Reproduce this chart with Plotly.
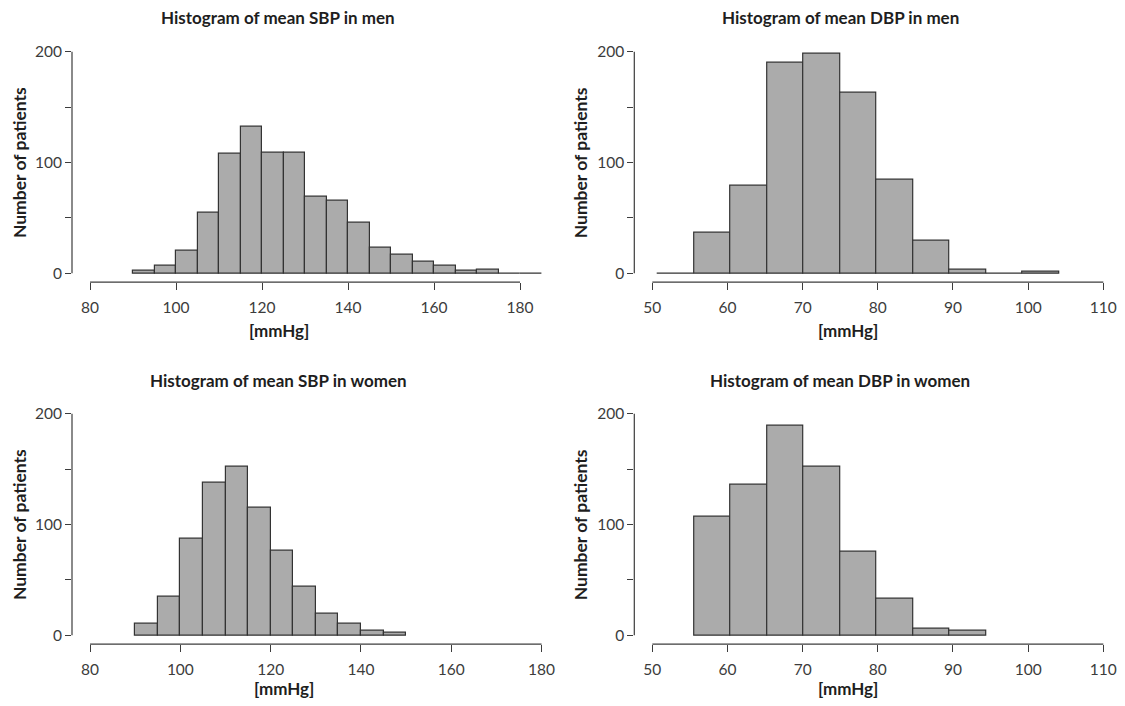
import plotly.graph_objects as go

# ---------------- data ----------------
sbp_edges_men = [90, 95, 100, 105, 110, 115, 120, 125, 130, 135, 140, 145, 150, 155, 160, 165, 170, 175, 180, 185]
sbp_counts_men = [2, 7, 20, 55, 108, 132, 109, 109, 69, 65, 46, 23, 17, 10, 7, 2, 3, 0, 0]

dbp_edges_men = [50.67, 55.53, 60.39, 65.25, 70.11, 74.97, 79.84, 84.70, 89.56, 94.42, 99.28, 104.14]
dbp_counts_men = [0, 37, 79, 190, 198, 163, 84, 29, 3, 0, 1]

sbp_edges_women = [90, 95, 100, 105, 110, 115, 120, 125, 130, 135, 140, 145, 150]
sbp_counts_women = [10, 35, 87, 138, 152, 115, 76, 44, 19, 10, 4, 2]

dbp_edges_women = [55.53, 60.39, 65.25, 70.11, 74.97, 79.84, 84.70, 89.56, 94.42]
dbp_counts_women = [107, 136, 189, 152, 75, 33, 6, 4]

titles = ["Histogram of mean SBP in men", "Histogram of mean DBP in men",
          "Histogram of mean SBP in women", "Histogram of mean DBP in women"]
sbp_ticks = [80, 100, 120, 140, 160, 180]
dbp_ticks = [50, 60, 70, 80, 90, 100, 110]
y_ticks = [0, 50, 100, 150, 200]
y_ticktext = ["0", "", "100", "", "200"]

# ---------------- figure ----------------
# the page body has an 8px margin, so the figure is 16px smaller than the window
OFF = 8
W, H = 1125 - 2 * OFF, 706 - 2 * OFF
FONT = "Lato"
BAR_FILL = "#ababab"
BAR_LINE = "#333333"
AX_COL = "#3c3c3c"
TXT_COL = "#1e1e1e"

panels = [
    dict(edges=sbp_edges_men, counts=sbp_counts_men, ticks=sbp_ticks, xr=[75.8, 189.2],
         px=(72, 559.6), py=(42.8, 282.2), title=(277.7, 17.5), xlab=(279.4, 330), ylab=(19.6, 162.5)),
    dict(edges=dbp_edges_men, counts=dbp_counts_men, ticks=dbp_ticks, xr=[47.6, 111.82],
         px=(634.3, 1117), py=(42.8, 282.2), title=(840.4, 17.5), xlab=(848, 330), ylab=(580.8, 162.5)),
    dict(edges=sbp_edges_women, counts=sbp_counts_women, ticks=sbp_ticks, xr=[76, 184],
         px=(72, 559.6), py=(404.8, 644.2), title=(278.2, 380.7), xlab=(284, 688), ylab=(19.6, 524.5)),
    dict(edges=dbp_edges_women, counts=dbp_counts_women, ticks=dbp_ticks, xr=[47.6, 111.82],
         px=(634.3, 1117), py=(404.8, 644.2), title=(840.4, 380.7), xlab=(848, 688), ylab=(580.8, 524.5)),
]

def fx(v):
    return (v - OFF) / W

def fy(v):
    return 1 - (v - OFF) / H

fig = go.Figure()
layout = dict(width=W, height=H, margin=dict(l=0, r=0, t=0, b=0),
              paper_bgcolor="white", plot_bgcolor="white", showlegend=False,
              font=dict(family=FONT, color=AX_COL))
annotations = []
shapes = []

for i, p in enumerate(panels):
    n = i + 1
    xa = "x" if n == 1 else f"x{n}"
    ya = "y" if n == 1 else f"y{n}"
    e = p["edges"]
    centers = [(a + b) / 2 for a, b in zip(e[:-1], e[1:])]
    widths = [b - a for a, b in zip(e[:-1], e[1:])]
    fig.add_trace(go.Bar(x=centers, y=p["counts"], width=widths, xaxis=xa, yaxis=ya,
                         marker=dict(color=BAR_FILL, line=dict(color=BAR_LINE, width=1.2)),
                         hoverinfo="x+y"))
    xkey = "xaxis" if n == 1 else f"xaxis{n}"
    ykey = "yaxis" if n == 1 else f"yaxis{n}"
    layout[xkey] = dict(domain=[max(0, fx(p["px"][0])), min(1, fx(p["px"][1]))], range=p["xr"], anchor=ya,
                        showgrid=False, zeroline=False, showline=False,
                        tickmode="array", tickvals=p["ticks"], ticks="outside", ticklen=7,
                        tickwidth=1.2, tickcolor=AX_COL, ticklabelstandoff=4,
                        tickfont=dict(family=FONT, size=15.5, color=AX_COL))
    layout[ykey] = dict(domain=[fy(p["py"][1]), fy(p["py"][0])], range=[-8, 208], anchor=xa,
                        showgrid=False, zeroline=False, showline=False,
                        tickmode="array", tickvals=y_ticks, ticktext=y_ticktext,
                        ticks="outside", ticklen=6, tickwidth=1.2, tickcolor=AX_COL,
                        tickfont=dict(family=FONT, size=15.5, color=AX_COL))
    # R-style axis lines spanning only the tick range
    shapes.append(dict(type="line", xref=xa, yref=f"{ya} domain", x0=p["ticks"][0], x1=p["ticks"][-1],
                       y0=0, y1=0, line=dict(color=AX_COL, width=1.2)))
    shapes.append(dict(type="line", xref=f"{xa} domain", yref=ya, x0=0, x1=0, y0=0, y1=200,
                       line=dict(color=AX_COL, width=1.2)))
    annotations.append(dict(text=f"<b>{titles[i]}</b>", x=fx(p["title"][0]), y=fy(p["title"][1]),
                            xref="paper", yref="paper", showarrow=False, xanchor="center", yanchor="middle",
                            font=dict(family=FONT, size=17, color=TXT_COL)))
    annotations.append(dict(text="<b>[mmHg]</b>", x=fx(p["xlab"][0]), y=fy(p["xlab"][1]),
                            xref="paper", yref="paper", showarrow=False, xanchor="center", yanchor="middle",
                            font=dict(family=FONT, size=17, color=TXT_COL)))
    annotations.append(dict(text="<b>Number of patients</b>", x=fx(p["ylab"][0]), y=fy(p["ylab"][1]),
                            xref="paper", yref="paper", showarrow=False, xanchor="center", yanchor="middle",
                            textangle=-90, font=dict(family=FONT, size=17.5, color=TXT_COL)))

layout["annotations"] = annotations
layout["shapes"] = shapes
layout["bargap"] = 0
fig.update_layout(**layout)
fig.write_html("out.html")
